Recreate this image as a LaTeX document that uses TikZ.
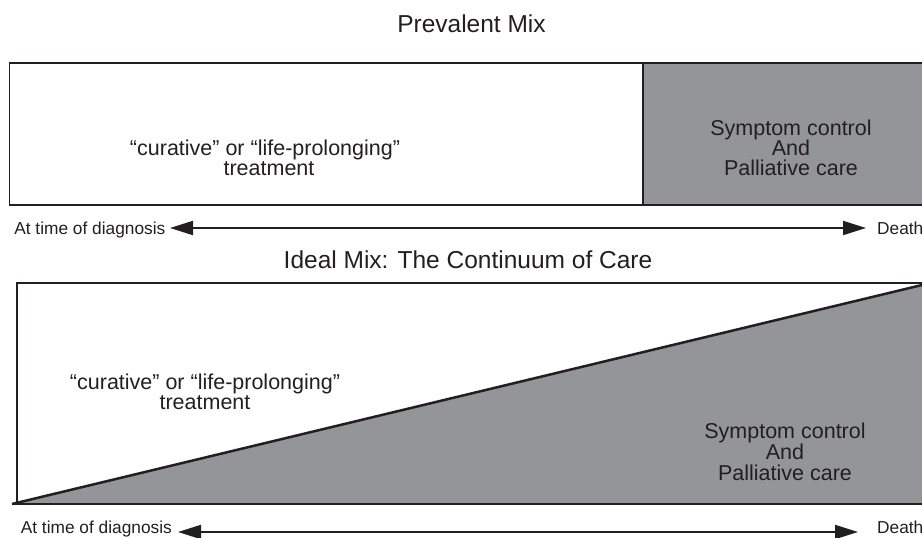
\documentclass[tikz,border=0pt]{standalone}
\usepackage{fontspec}
\setmainfont{Liberation Sans}
\usetikzlibrary{arrows.meta}
\definecolor{ink}{HTML}{231F20}
\definecolor{greyfill}{HTML}{939598}
\begin{document}
\begin{tikzpicture}[x=1pt,y=-1pt,
  boxline/.style={draw=ink,line width=1.6pt},
  lbl/.style={font=\fontsize{17.3}{20}\selectfont,text=ink,inner sep=0pt},
  boxtxt/.style={font=\fontsize{21.5}{22}\selectfont,text=ink,inner sep=0pt,anchor=base},
  ttl/.style={font=\fontsize{24.5}{28}\selectfont,text=ink,inner sep=0pt,anchor=base},
  timeline/.style={draw=ink,line width=2pt,{Triangle[length=23pt,width=14pt]}-{Triangle[length=23pt,width=14pt]}}]
\useasboundingbox (0,0) rectangle (922,538);

% ---------- Prevalent Mix ----------
\node[ttl] (t1) at (471.5,32) {Prevalent Mix};
\fill[greyfill] (643,63) rectangle (922,205);
\draw[boxline] (922,63) -- (9.5,63) -- (9.5,205) -- (922,205);
\draw[boxline] (643,63) -- (643,205);

\node[boxtxt] (c1a) at (265,155) {“curative” or “life-prolonging”};
\node[boxtxt] (c1b) at (269,175) {treatment};
\node[boxtxt] (p1a) at (791,135) {Symptom control};
\node[boxtxt] (p1b) at (791,155) {And};
\node[boxtxt] (p1c) at (791,175) {Palliative care};

\node[lbl,anchor=base east] (diag1) at (165.5,234) {At time of diagnosis};
\node[lbl,anchor=base west] (death1) at (877,234) {Death};
\coordinate (a1l) at (170,228);
\coordinate (a1r) at (866,228);
\draw[timeline] (a1l) -- (a1r);

% ---------- Ideal Mix ----------
\node[ttl] (t2) at (468,268) {Ideal Mix: The Continuum of Care};
\fill[greyfill] (12,504) -- (922,285) -- (922,504) -- cycle;
\draw[boxline] (922,283) -- (17,283) -- (17,504);
\draw[boxline] (12,504) -- (922,504);
\draw[draw=ink,line width=2.5pt] (12,504) -- (922,285);

\node[boxtxt] (c2a) at (205,389) {“curative” or “life-prolonging”};
\node[boxtxt] (c2b) at (205,409) {treatment};
\node[boxtxt] (p2a) at (785,438) {Symptom control};
\node[boxtxt] (p2b) at (785,459) {And};
\node[boxtxt] (p2c) at (785,480) {Palliative care};

\node[lbl,anchor=base east] (diag2) at (172,533) {At time of diagnosis};
\node[lbl,anchor=base west] (death2) at (877,533) {Death};
\coordinate (a2l) at (178,532);
\coordinate (a2r) at (858,532);
\draw[timeline] (a2l) -- (a2r);
\end{tikzpicture}
\end{document}
